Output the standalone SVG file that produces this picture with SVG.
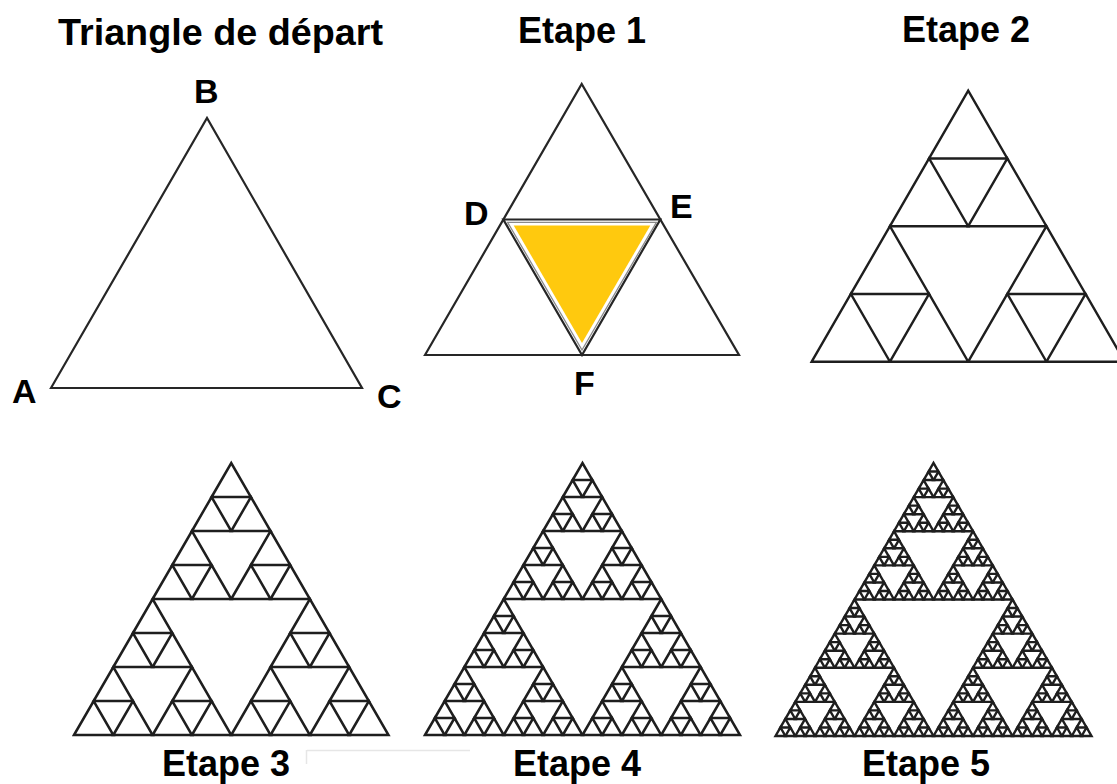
<svg xmlns="http://www.w3.org/2000/svg" xmlns:xlink="http://www.w3.org/1999/xlink" width="1117" height="784" viewBox="0 0 1117 784">
  <style>
    .bg { fill: #ffffff; }
    .lbl { font-family: "Liberation Sans", Arial, sans-serif; font-weight: bold; fill: #000; }
    .title { font-size: 36px; }
    .pt { font-size: 34px; }
    .edge { fill: none; stroke: #262626; stroke-width: 2.2; stroke-linejoin: miter; }
    .unit { fill: none; stroke: #1e1e1e; vector-effect: non-scaling-stroke; stroke-linejoin: miter; }
    .faint { stroke: #e6e6e6; stroke-width: 1.5; fill: none; }
  </style>
  <defs>
    <!-- unit triangle in a 1x1 box; recursive Sierpinski levels built from it -->
    <polygon id="s0" class="unit" points="0,1 0.5,0 1,1"/>
    <g id="s1">
      <use xlink:href="#s0" href="#s0" transform="translate(0.25,0) scale(0.5)"/>
      <use xlink:href="#s0" href="#s0" transform="translate(0,0.5) scale(0.5)"/>
      <use xlink:href="#s0" href="#s0" transform="translate(0.5,0.5) scale(0.5)"/>
    </g>
    <g id="s2">
      <use xlink:href="#s1" href="#s1" transform="translate(0.25,0) scale(0.5)"/>
      <use xlink:href="#s1" href="#s1" transform="translate(0,0.5) scale(0.5)"/>
      <use xlink:href="#s1" href="#s1" transform="translate(0.5,0.5) scale(0.5)"/>
    </g>
    <g id="s3">
      <use xlink:href="#s2" href="#s2" transform="translate(0.25,0) scale(0.5)"/>
      <use xlink:href="#s2" href="#s2" transform="translate(0,0.5) scale(0.5)"/>
      <use xlink:href="#s2" href="#s2" transform="translate(0.5,0.5) scale(0.5)"/>
    </g>
    <g id="s4">
      <use xlink:href="#s3" href="#s3" transform="translate(0.25,0) scale(0.5)"/>
      <use xlink:href="#s3" href="#s3" transform="translate(0,0.5) scale(0.5)"/>
      <use xlink:href="#s3" href="#s3" transform="translate(0.5,0.5) scale(0.5)"/>
    </g>
    <g id="s5">
      <use xlink:href="#s4" href="#s4" transform="translate(0.25,0) scale(0.5)"/>
      <use xlink:href="#s4" href="#s4" transform="translate(0,0.5) scale(0.5)"/>
      <use xlink:href="#s4" href="#s4" transform="translate(0.5,0.5) scale(0.5)"/>
    </g>
  </defs>

  <rect class="bg" x="0" y="0" width="1117" height="784"/>

  <!-- starting triangle ABC -->
  <g id="start">
    <text class="lbl title" x="58" y="45" textLength="325" lengthAdjust="spacingAndGlyphs">Triangle de départ</text>
    <polygon class="edge" points="51,388 207,118 362,388"/>
    <text class="lbl pt" x="12" y="403">A</text>
    <text class="lbl pt" x="194" y="103">B</text>
    <text class="lbl pt" x="377" y="408">C</text>
  </g>

  <!-- step 1: midpoints D, E, F and the removed middle triangle -->
  <g id="step1">
    <text class="lbl title" x="518" y="43">Etape 1</text>
    <polygon class="edge" points="425,355 581.7,84 739,355"/>
    <polygon class="edge" points="503.3,219.5 660.3,219.5 582,355"/>
    <polygon fill="none" stroke="#8a8a8a" stroke-width="1.3" points="507.6,222.3 656.4,222.3 582,350"/>
    <polygon fill="#FFC90E" points="513.7,225.5 650.3,225.5 582,343.1"/>
    <text class="lbl pt" x="464" y="225">D</text>
    <text class="lbl pt" x="670" y="218">E</text>
    <text class="lbl pt" x="574" y="395">F</text>
  </g>

  <!-- step 2 -->
  <g id="step2" style="stroke-width:2.4">
    <text class="lbl title" x="902" y="42">Etape 2</text>
    <use xlink:href="#s2" href="#s2" transform="translate(811.7,90.7) scale(313,271)"/>
  </g>

  <!-- step 3 -->
  <g id="step3" style="stroke-width:2.5">
    <use xlink:href="#s3" href="#s3" transform="translate(74,463) scale(314.5,272)"/>
    <text class="lbl title" x="162" y="776">Etape 3</text>
  </g>

  <!-- step 4 -->
  <g id="step4" style="stroke-width:2.5">
    <use xlink:href="#s4" href="#s4" transform="translate(425,463) scale(315,272)"/>
    <text class="lbl title" x="513" y="776">Etape 4</text>
  </g>

  <!-- step 5 -->
  <g id="step5" style="stroke-width:2.4">
    <use xlink:href="#s5" href="#s5" transform="translate(775.5,463) scale(316,273)"/>
    <text class="lbl title" x="862" y="776">Etape 5</text>
  </g>

  <!-- light panel seam between the lower rows -->
  <path class="faint" d="M306.5,750 V764 M307,750.5 H470"/>
</svg>
